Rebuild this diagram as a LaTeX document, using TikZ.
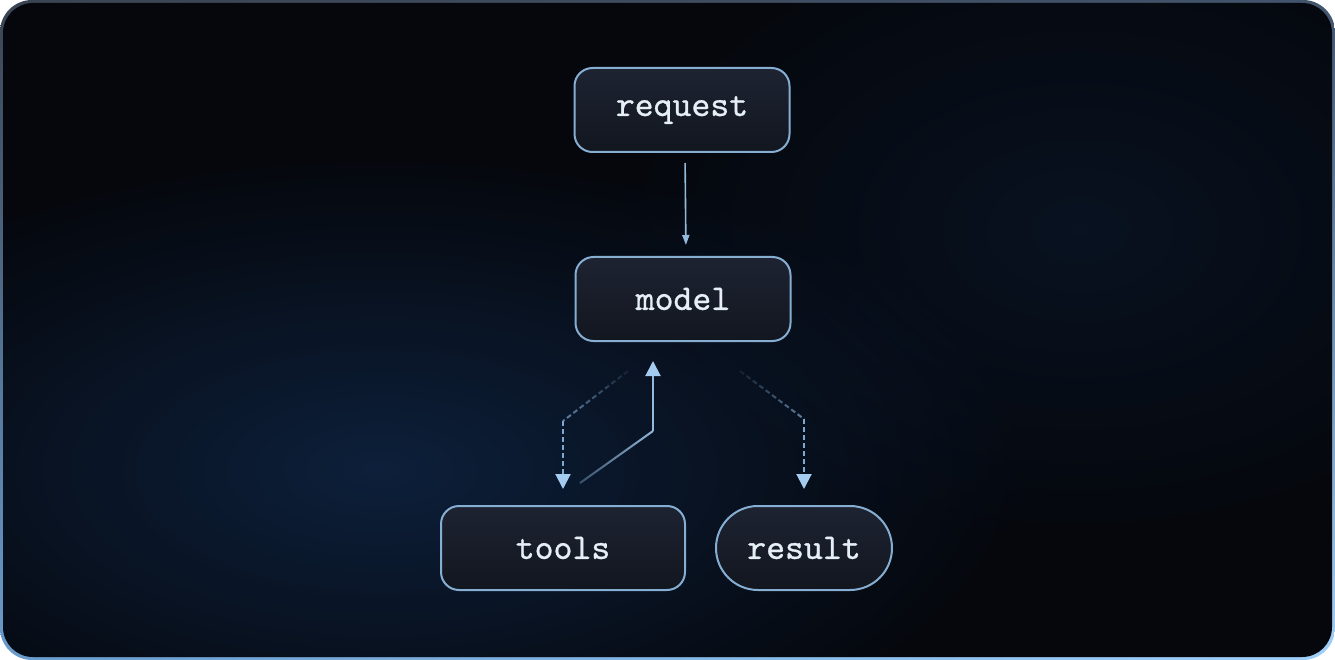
\documentclass[tikz,border=0pt]{standalone}
\usepackage{fontspec}
\usetikzlibrary{arrows.meta,fadings,shadings}

\newfontfamily\boxfont{lmmono10-regular.otf}[FakeBold=0.8]

\definecolor{frameA}{HTML}{3A4452}
\definecolor{frameB}{HTML}{42546C}
\definecolor{frameC}{HTML}{6A9CCC}
\definecolor{frameD}{HTML}{A0D0FA}
\definecolor{inner}{HTML}{05070C}
\definecolor{glow}{HTML}{10284A}
\definecolor{boxline}{HTML}{86AED2}
\definecolor{boxtop}{HTML}{1E2332}
\definecolor{boxbottom}{HTML}{12161F}
\definecolor{label}{HTML}{E6EEF6}
\definecolor{flowline}{HTML}{93B9DC}
\definecolor{dashline}{HTML}{7DA9D1}
\definecolor{tipfill}{HTML}{A4CCF0}

\tikzfading[name=glowfade, inner color=transparent!25, outer color=transparent!100]
\tikzfading[name=dimtop, top color=transparent!90, bottom color=transparent!25]
\tikzfading[name=dimleft, left color=transparent!65, right color=transparent!0]

\begin{document}
\begin{tikzpicture}[x=1pt,y=-1pt,
    box/.style={draw=boxline, line width=2pt, top color=boxtop, bottom color=boxbottom,
        rounded corners=18pt, minimum width=215pt, minimum height=84pt,
        text=label, font=\fontsize{36}{40}\selectfont\boxfont},
    pill/.style={box, rounded corners=42pt, minimum width=176pt},
    flow/.style={draw=flowline, line width=1.6pt},
    back/.style={draw=flowline, line width=2pt},
    dashflow/.style={draw=dashline, line width=2pt, dash pattern=on 5pt off 3pt},
    tip/.style={-{Triangle[length=15pt,width=15pt,fill=tipfill,color=tipfill]}}]
                \useasboundingbox (0,0) rectangle (1335,660);
                \shade [rounded corners=32pt, upper left=frameA, upper right=frameB,
                    lower left=frameC, lower right=frameD] (0,0) rectangle (1335,660);
                \fill [inner, rounded corners=30pt] (3,3) rectangle (1332,657);
                \begin{scope}
                    \clip [rounded corners=30pt] (3,3) rectangle (1332,657);
                    \fill [glow, path fading=glowfade] (380,470) ellipse (650 and 320);
                    \fill [glow, opacity=0.45, path fading=glowfade] (1080,230) ellipse (480 and 320);
                \end{scope}
                \node [box] (request) at (682,110) {request};
                \node [box] (model) at (683,299) {model};
                \node [box, minimum width=244pt] (tools) at (563,548) {tools};
                \node [pill] (result) at (804,548) {result};
                \coordinate (lbend) at ([shift={(0,-84)}]tools.north);
                \coordinate (rbend) at ([shift={(0,-86)}]result.north);
                \coordinate (ubend) at ([shift={(-30,89)}]model.south);
                \draw [flow, -{Triangle[length=10pt,width=7pt]}, shorten <=10pt, shorten >=11pt]
                    ([xshift=3pt]request.south) -- ([xshift=3pt]model.north);
                \draw [dashflow, path fading=dimtop] ([shift={(-55,29)}]model.south) -- (lbend);
                \draw [dashflow, tip, shorten >=16pt] (lbend) -- (tools.north);
                \draw [dashflow, path fading=dimtop] ([shift={(57,29)}]model.south) -- (rbend);
                \draw [dashflow, tip, shorten >=16pt] (rbend) -- (result.north);
                \draw [back, path fading=dimleft] ([shift={(17,-22)}]tools.north) -- (ubend);
                \draw [back, tip, shorten >=19pt] (ubend) -- ([xshift=-30pt]model.south);
\end{tikzpicture}
\end{document}
